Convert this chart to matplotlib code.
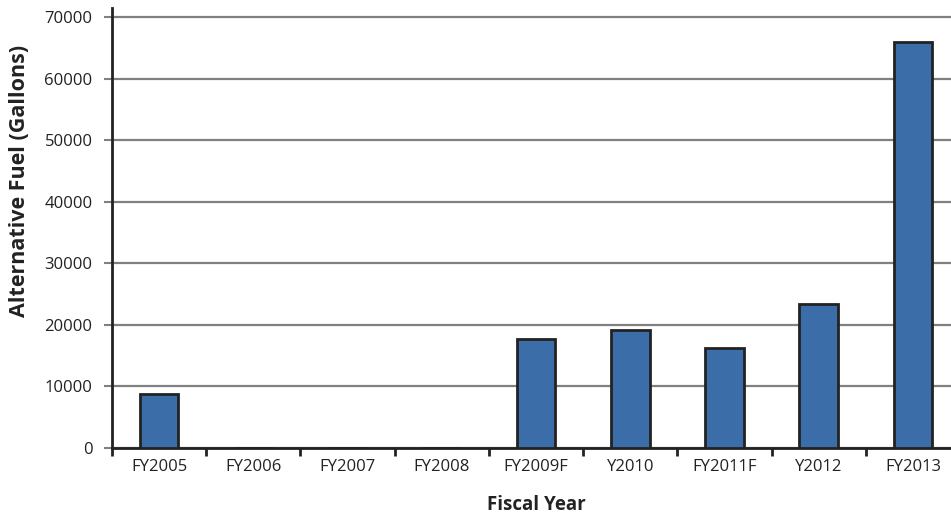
import matplotlib.pyplot as plt
import numpy as np

plt.rcParams['font.family'] = ['Open Sans', 'DejaVu Sans']

years = ['FY2005', 'FY2006', 'FY2007', 'FY2008', 'FY2009F', 'Y2010', 'FY2011F', 'Y2012', 'FY2013']
gallons = [8800, 0, 0, 0, 17700, 19100, 16300, 23400, 65900]

fig = plt.figure(figsize=(9.51, 5.14), dpi=100)
ax = fig.add_axes([112 / 951, 66 / 514, 848 / 951, 440 / 514])

x = np.arange(len(years))
ax.bar(x, gallons, width=0.41, color='#3b6ea8', edgecolor='#222222', linewidth=2, zorder=3)

ax.set_xlim(-0.5, len(years) - 0.5)
ax.set_ylim(0, 71500)
ax.set_yticks(np.arange(0, 70001, 10000))
ax.yaxis.grid(True, color='#808080', linewidth=1.6)
ax.set_axisbelow(True)

# tick marks sit between the categories, labels in the middle
ax.set_xticks(np.arange(-0.5, len(years), 1.0))
ax.set_xticklabels([])
ax.set_xticks(x, minor=True)
ax.set_xticklabels(years, minor=True, fontsize=12, color='#222222')
ax.tick_params(axis='x', which='major', length=6, width=2, color='#222222')
ax.tick_params(axis='x', which='minor', length=0, pad=8)
ax.tick_params(axis='y', length=6, width=1.5, color='#808080', labelsize=12,
               labelcolor='#222222', pad=8)

for side in ['top', 'right']:
    ax.spines[side].set_visible(False)
for side in ['left', 'bottom']:
    ax.spines[side].set_linewidth(2)
    ax.spines[side].set_color('#222222')

ax.set_ylabel('Alternative Fuel (Gallons)', fontsize=15.5, fontweight='bold', color='#222222')
ax.yaxis.set_label_coords(-0.097, 0.607)
ax.set_xlabel('Fiscal Year', fontsize=13.5, fontweight='bold', color='#222222', labelpad=14)

fig.savefig('out.png', dpi=100)
